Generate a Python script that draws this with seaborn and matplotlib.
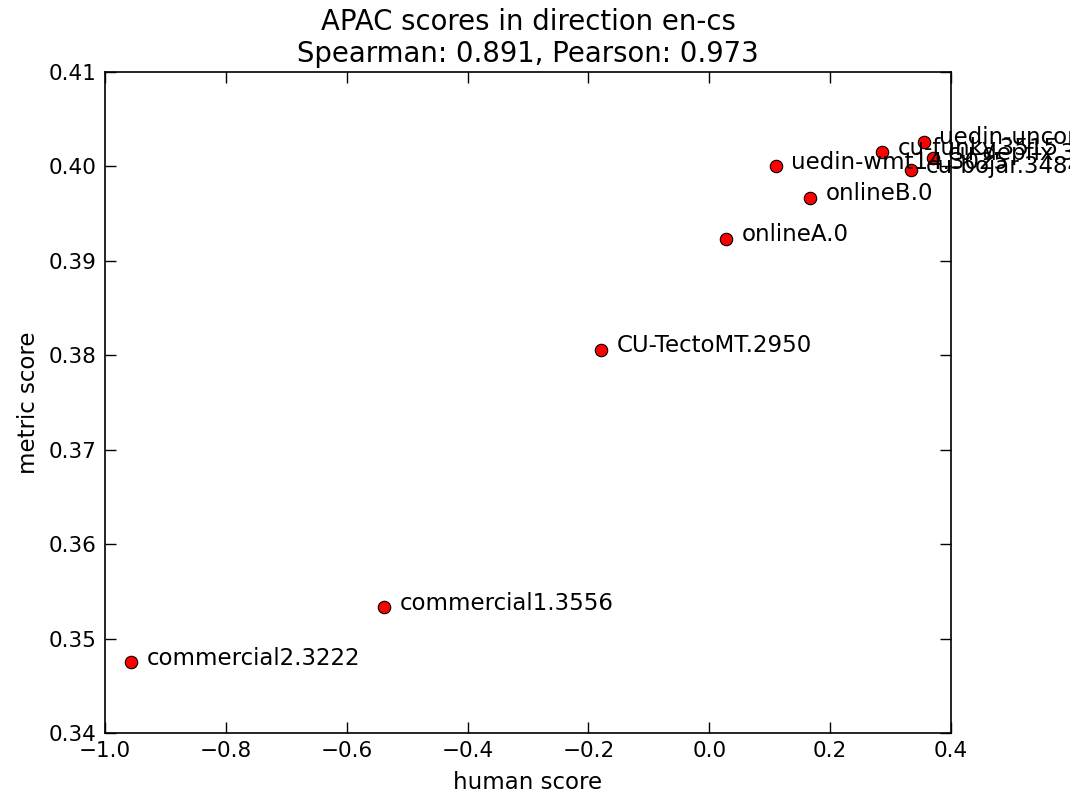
import matplotlib
matplotlib.use("Agg")
import matplotlib.pyplot as plt
import seaborn as sns
import pandas as pd

systems = [
    "commercial2.3222",
    "commercial1.3556",
    "CU-TectoMT.2950",
    "onlineA.0",
    "onlineB.0",
    "uedin-wmt14.3025",
    "cu-funky.3515",
    "uedin-unconstrained.3442",
    "cu-depfix.3185",
    "cu-bojar.3484",
]
human_score = [-0.957, -0.538, -0.179, 0.028, 0.167, 0.110, 0.286, 0.355, 0.370, 0.333]
metric_score = [0.3475, 0.3533, 0.3806, 0.3923, 0.3967, 0.4000, 0.4015, 0.4026, 0.4009, 0.3996]

x_ticks = [-1.0, -0.8, -0.6, -0.4, -0.2, 0.0, 0.2, 0.4]
y_ticks = [0.34, 0.35, 0.36, 0.37, 0.38, 0.39, 0.40, 0.41]

spearman = 0.891
pearson = 0.973

df = pd.DataFrame({"system": systems, "human": human_score, "metric": metric_score})

sns.set_style("white")
plt.rcParams["font.family"] = ["DejaVu Sans"]
plt.rcParams["font.size"] = 16.5
for key in ["text.color", "axes.labelcolor", "xtick.color", "ytick.color"]:
    plt.rcParams[key] = "black"

fig = plt.figure(figsize=(10.7, 7.91), dpi=100)
ax = fig.add_axes([105 / 1070, 1 - 733 / 791, (951 - 105) / 1070, (733 - 72) / 791])

sns.scatterplot(data=df, x="human", y="metric", ax=ax, color="red",
                edgecolor="black", linewidth=0.8, s=80, zorder=3, legend=False)

for name, hx, my in zip(systems, human_score, metric_score):
    ax.annotate(name, (hx, my), xytext=(11, 3), textcoords="offset points",
                va="center", ha="left", fontsize=16.5, color="black",
                annotation_clip=False)

ax.set_xlim(-1.0, 0.4)
ax.set_ylim(0.34, 0.41)
ax.set_xticks(x_ticks)
ax.set_yticks(y_ticks)
ax.set_xticklabels([f"{t:.1f}".replace("-", "\u2212") for t in x_ticks], fontsize=15.5)
ax.set_yticklabels([f"{t:.2f}" for t in y_ticks], fontsize=15.5)
ax.tick_params(direction="in", length=8, width=1, top=True, right=True,
               bottom=True, left=True, pad=6, colors="black")
for sp in ax.spines.values():
    sp.set_color("black")
    sp.set_linewidth(1.2)

ax.set_xlabel("human score", fontsize=16.5, labelpad=7)
ax.set_ylabel("metric score", fontsize=16.5, labelpad=6)
ax.set_title(f"APAC scores in direction en-cs\nSpearman: {spearman}, Pearson: {pearson}",
             fontsize=19.8, pad=7, color="black")

fig.savefig("out.png", dpi=100)
